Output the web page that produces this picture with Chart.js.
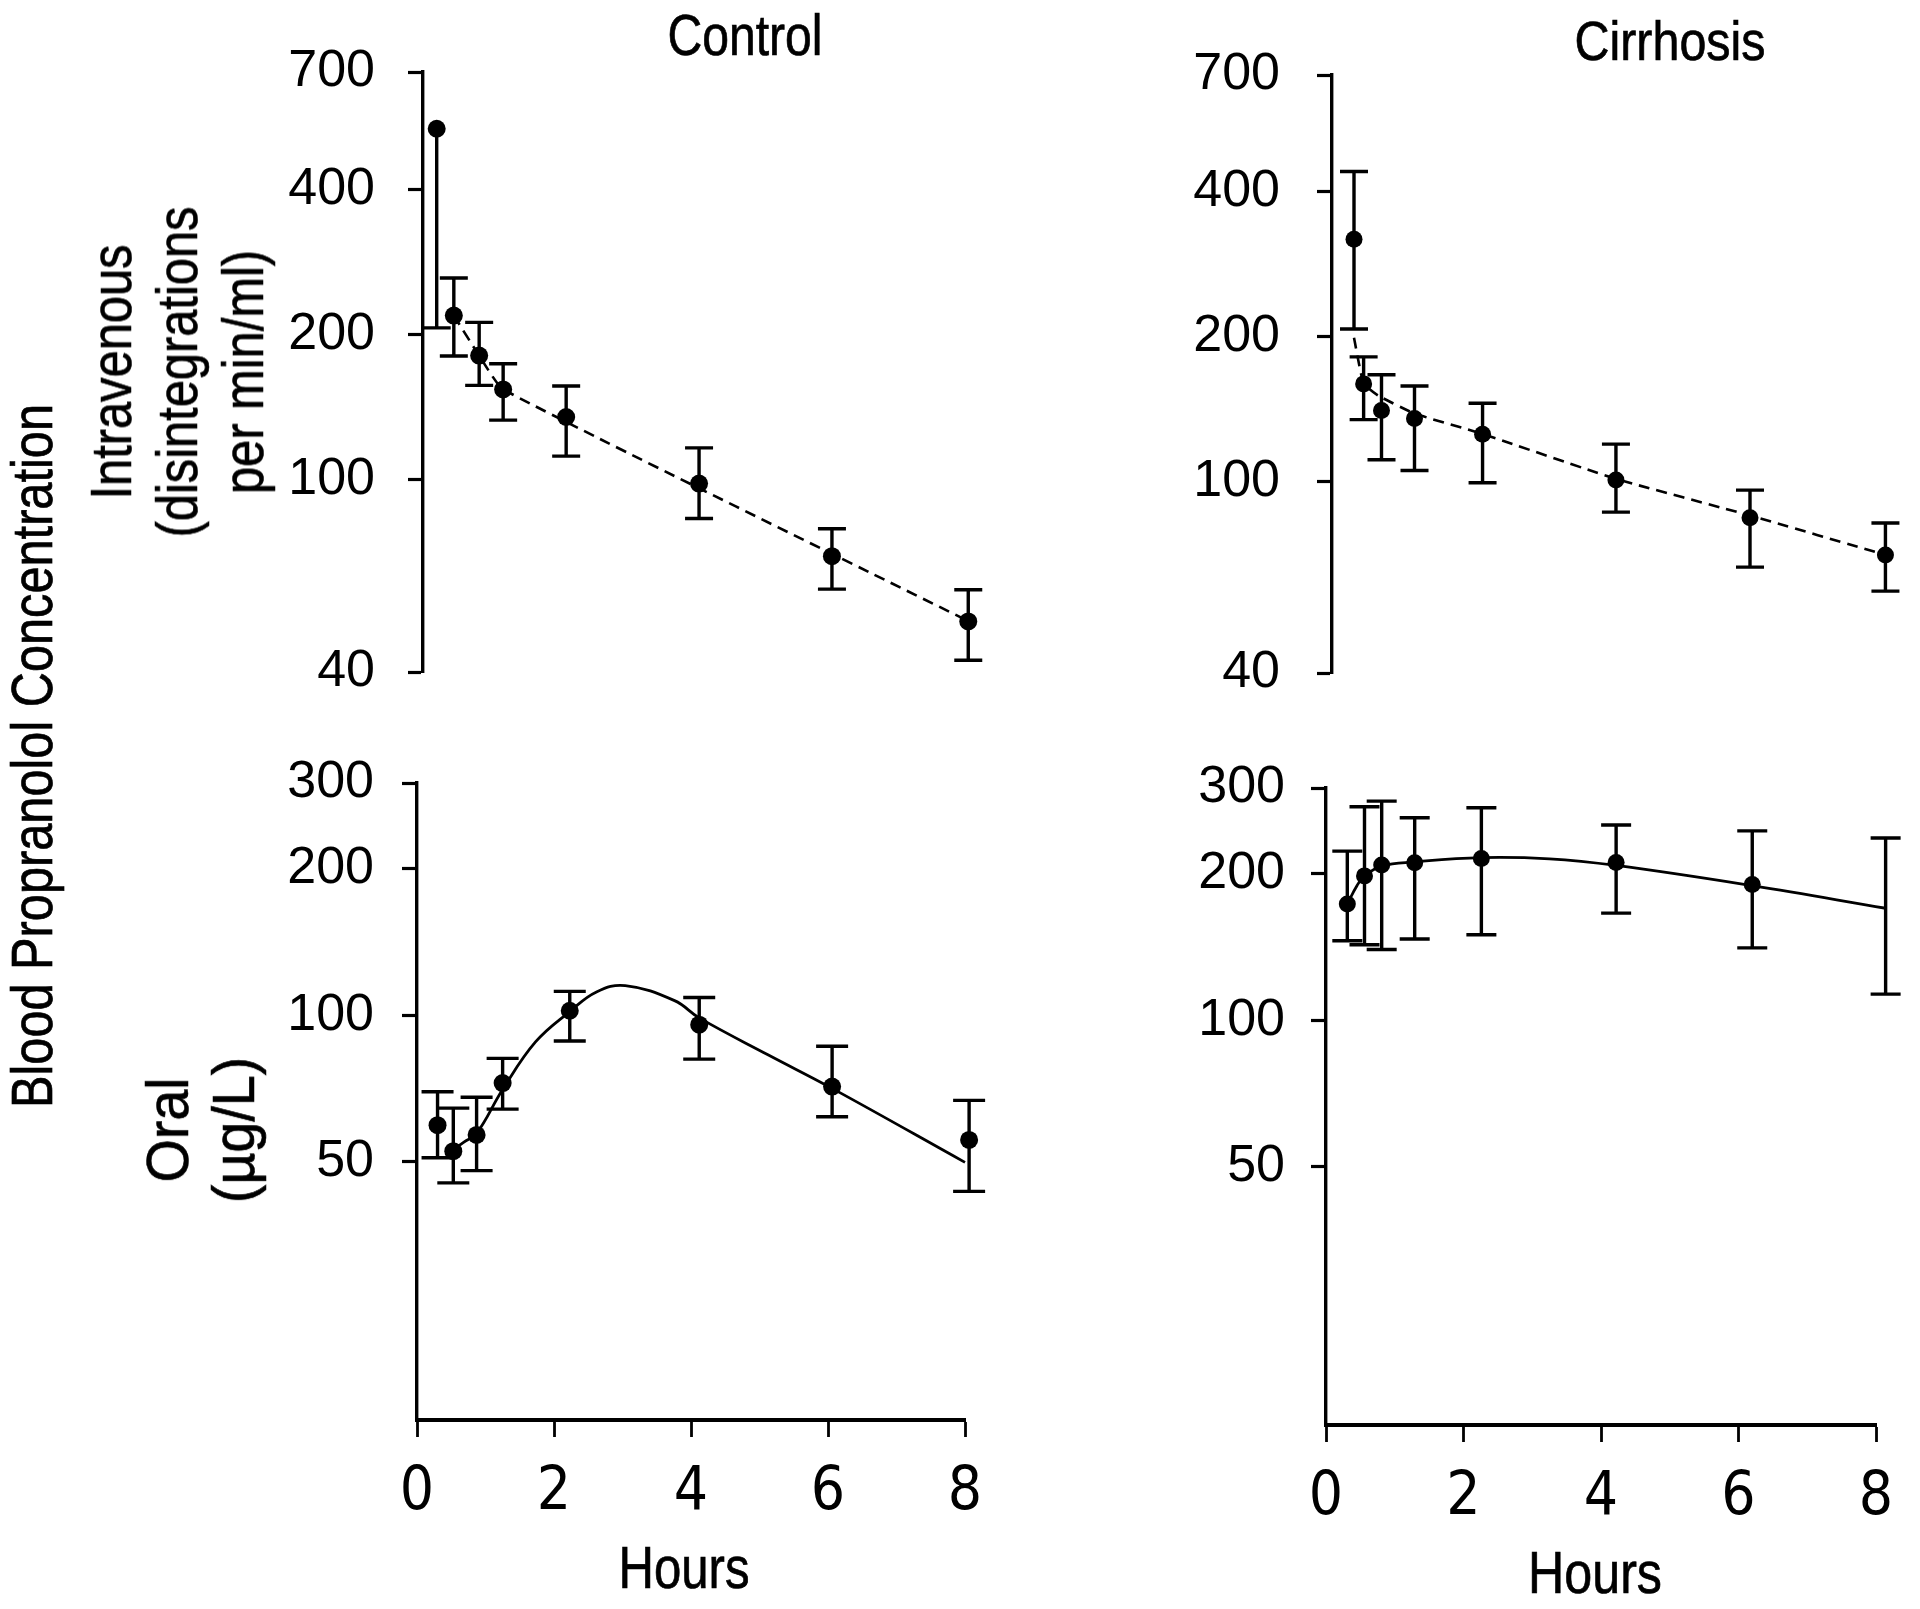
<!DOCTYPE html>
<html>
<head>
<meta charset="utf-8">
<script src="https://cdn.jsdelivr.net/npm/chart.js@4.4.1/dist/chart.umd.min.js"></script>
<style>
html,body{margin:0;padding:0;background:#fff;}
body{width:1920px;height:1609px;position:relative;overflow:hidden;}
canvas{position:absolute;}
.t{position:absolute;white-space:nowrap;color:#000;line-height:1;text-align:center;font-family:"Liberation Sans",Arial,sans-serif;-webkit-text-stroke:0.7px #000;}
</style>
</head>
<body>
<canvas id="tl" width="780" height="745" style="left:230px;top:0px"></canvas>
<canvas id="tr" width="780" height="745" style="left:1140px;top:0px"></canvas>
<canvas id="bl" width="780" height="909" style="left:230px;top:700px"></canvas>
<canvas id="br" width="780" height="909" style="left:1140px;top:700px"></canvas>

<div class="t" id="tControl">Control</div>
<div class="t" id="tCirrhosis">Cirrhosis</div>
<div class="t" id="tHours1">Hours</div>
<div class="t" id="tHours2">Hours</div>
<div class="t" id="tBlood">Blood Propranolol Concentration</div>
<div class="t" id="tIV">Intravenous<br>(disintegrations<br>per min/ml)</div>
<div class="t" id="tOral">Oral<br>(µg/L)</div>

<script>
// ---------- data ----------
// Control, intravenous
const ctrlIvHours = [0.20, 0.45, 0.82, 1.17, 2.09, 4.03, 5.97, 7.96];
const ctrlIvMean  = [534, 219, 181, 154, 135, 98.3, 69.5, 50.9];
const ctrlIvLow   = [206.5, 180.6, 157, 133, 112, 83.2, 59.4, 42.3];
const ctrlIvHigh  = [null, 262, 212, 174, 156.5, 116.5, 79.2, 59.2];
const ctrlIvFitHours = [0.45, 0.82, 1.17, 7.96];
const ctrlIvFitValues = [219, 181, 154, 51];

// Cirrhosis, intravenous
const cirrIvHours = [0.32, 0.46, 0.72, 1.20, 2.19, 4.13, 6.08, 8.05];
const cirrIvMean  = [319, 159.6, 140.5, 135.3, 125.4, 100.8, 84.1, 70.4];
const cirrIvLow   = [207.5, 134.5, 111, 105.4, 99.4, 86.4, 66.4, 59.2];
const cirrIvHigh  = [441, 181.6, 166.7, 158, 145.5, 119.6, 96, 82];
const cirrIvFitHours = [0.32, 0.46, 0.67, 1.20, 2.19, 4.13, 6.08, 8.05];
const cirrIvFitValues = [199, 160, 151, 138.5, 125.6, 101.3, 85, 70.4];

// Control, oral
const ctrlOralHours = [0.30, 0.53, 0.87, 1.25, 2.23, 4.12, 6.06, 8.06];
const ctrlOralMean  = [59.5, 52.6, 56.8, 72.6, 102.2, 95.7, 71.4, 55.5];
const ctrlOralLow   = [51, 45.3, 48, 64.2, 88.6, 81.3, 61.9, 43.5];
const ctrlOralHigh  = [69.7, 64.5, 67.9, 81.6, 112, 108.8, 86.4, 66.9];
const ctrlOralFitHours = [0.45, 0.69, 0.87, 1.25, 1.73, 2.23, 2.62, 3.04, 3.76, 4.12, 5.13, 6.06, 8.0];
const ctrlOralFitValues = [52, 55, 57.2, 70.4, 88.2, 101.8, 111.7, 115.1, 107.2, 98.8, 82.9, 70.8, 49.9];

// Cirrhosis, oral
const cirrOralHours = [0.31, 0.56, 0.81, 1.29, 2.26, 4.22, 6.20, 8.14];
const cirrOralMean  = [173.3, 198, 208.5, 210.6, 215, 211, 190, 169.9];
const cirrOralLow   = [145.7, 143, 139.8, 146.9, 149.9, 166, 140.9, 113.2];
const cirrOralHigh  = [222.6, 274.5, 281.9, 260.7, 273.3, 251.9, 245, 236.8];
const cirrOralFitHours = [0.31, 0.45, 0.56, 0.81, 1.29, 2.26, 3.25, 4.22, 6.2, 8.14];
const cirrOralFitValues = [173.3, 189, 198, 207.4, 211.5, 215.9, 214.6, 208, 189, 169.9];

// tick labels
const hourTicks = [0, 2, 4, 6, 8];
const ivTicks = [40, 100, 200, 400, 700];
const oralTicks = [50, 100, 200, 300];

// ---------- fonts ----------
function fontAvailable(name) {
  const c = document.createElement('canvas').getContext('2d');
  const t = '0123456789 Control Hours Cirrhosis';
  let diff = false;
  ['monospace', 'serif'].forEach(base => {
    c.font = '60px ' + base; const a = c.measureText(t).width;
    c.font = '60px "' + name + '", ' + base; const b = c.measureText(t).width;
    if (Math.abs(a - b) > 0.5) diff = true;
  });
  return diff;
}
const condFamily = ['Liberation Sans Narrow', 'DejaVu Sans Condensed', 'Arial Narrow'].find(fontAvailable);

// HTML labels: Liberation Sans squeezed horizontally to the reference's condensed width
const mctx = document.createElement('canvas').getContext('2d');
function place(id, cx, cy, size, rotate, lineHeight, refText, refWidth) {
  const el = document.getElementById(id);
  mctx.font = size + 'px "Liberation Sans"';
  const k = refWidth / mctx.measureText(refText).width;
  el.style.left = cx + 'px';
  el.style.top = cy + 'px';
  el.style.fontSize = size + 'px';
  if (lineHeight) el.style.lineHeight = lineHeight + 'px';
  el.style.transform = 'translate(-50%,-50%)' + (rotate ? ' rotate(-90deg)' : '') + ' scaleX(' + k.toFixed(4) + ')';
}
place('tControl', 745, 35, 58, false, 0, 'Control', 155);
place('tCirrhosis', 1670, 41, 56, false, 0, 'Cirrhosis', 191);
place('tHours1', 684, 1568, 60, false, 0, 'Hours', 131);
place('tHours2', 1595, 1573, 60, false, 0, 'Hours', 134);
place('tBlood', 32, 756, 57, true, 0, 'Blood Propranolol Concentration', 704);
place('tIV', 177, 372, 58, true, 66, 'Intravenous', 255);
place('tOral', 201, 1130, 60, true, 66, 'Oral', 105);

// ---------- error bars plugin (uses the chart's own scales) ----------
const errorBarPlugin = {
  id: 'errorBars',
  afterDatasetsDraw(chart, args, opts) {
    const ctx = chart.ctx, xs = chart.scales.x, ys = chart.scales.y;
    chart.data.datasets.forEach(ds => {
      if (!ds.errLow) return;
      ctx.save();
      ctx.strokeStyle = '#000';
      ctx.lineWidth = opts.lineWidth || 3;
      const cw = opts.capHalf || 14;
      ds.data.forEach((p, i) => {
        const px = xs.getPixelForValue(p.x);
        const py = ys.getPixelForValue(p.y);
        const lo = ds.errLow[i], hi = ds.errHigh[i];
        const top = hi != null ? ys.getPixelForValue(hi) : py;
        const bot = lo != null ? ys.getPixelForValue(lo) : py;
        ctx.beginPath();
        ctx.moveTo(px, top); ctx.lineTo(px, bot);
        if (hi != null) { ctx.moveTo(px - cw, top); ctx.lineTo(px + cw, top); }
        if (lo != null) { ctx.moveTo(px - cw, bot); ctx.lineTo(px + cw, bot); }
        ctx.stroke();
      });
      ctx.restore();
    });
  }
};

function makeChart(id, c) {
  const pts = c.hours.map((h, i) => ({x: h, y: c.mean[i]}));
  const fit = c.fitHours.map((h, i) => ({x: h, y: c.fitValues[i]}));
  return new Chart(document.getElementById(id), {
    type: 'scatter',
    data: {
      datasets: [
        {label: 'mean', data: pts, errLow: c.low, errHigh: c.high,
         pointRadius: c.r, pointHoverRadius: c.r, pointBackgroundColor: '#000',
         pointBorderWidth: 0, showLine: false, clip: false, order: 0},
        {label: 'fit', data: fit, showLine: true, pointRadius: 0, pointHoverRadius: 0,
         borderColor: '#000', borderWidth: c.lw, borderDash: c.dash,
         cubicInterpolationMode: 'default', tension: c.tension,
         clip: false, fill: false, order: 1}
      ]
    },
    options: {
      responsive: false, animation: false, events: [],
      layout: {padding: c.pad},
      plugins: {legend: {display: false}, tooltip: {enabled: false},
                errorBars: {capHalf: c.cap, lineWidth: 3.4}},
      scales: {
        x: {
          type: 'linear', min: 0, max: 8, position: 'bottom', display: c.showX,
          afterFit: s => { if (c.xH) s.height = c.xH; },
          afterBuildTicks: s => { s.ticks = hourTicks.map(v => ({value: v})); },
          ticks: {font: {family: condFamily || 'Liberation Sans', size: 60}, color: '#000',
                  padding: 20, maxRotation: 0, autoSkip: false},
          grid: {display: true, drawOnChartArea: false, drawTicks: true, tickLength: 17,
                 tickWidth: 2.8, tickColor: '#000', color: '#000'},
          border: {display: true, color: '#000', width: 4}
        },
        y: {
          type: 'logarithmic', min: c.min, max: c.max, position: 'left',
          afterFit: s => { s.width = c.yW; },
          afterBuildTicks: s => { s.ticks = c.yTicks.map(v => ({value: v})); },
          ticks: {callback: v => String(v), font: {family: 'Liberation Sans', size: 52},
                  color: '#000', padding: c.tickPad, autoSkip: false},
          grid: {display: true, drawOnChartArea: false, drawTicks: true, tickLength: 15,
                 tickWidth: 3.2, tickColor: '#000', color: '#000'},
          border: {display: true, color: '#000', width: 3.4}
        }
      }
    },
    plugins: [errorBarPlugin]
  });
}

makeChart('tl', {hours: ctrlIvHours, mean: ctrlIvMean, low: ctrlIvLow, high: ctrlIvHigh,
  fitHours: ctrlIvFitHours, fitValues: ctrlIvFitValues, dash: [11, 7], tension: 0.15, lw: 2.6,
  min: 40, max: 700, yTicks: ivTicks, showX: false, yW: 193, r: 9, cap: 14, tickPad: 33,
  pad: {left: 0, top: 72, right: 39, bottom: 73}});
makeChart('tr', {hours: cirrIvHours, mean: cirrIvMean, low: cirrIvLow, high: cirrIvHigh,
  fitHours: cirrIvFitHours, fitValues: cirrIvFitValues, dash: [11, 7], tension: 0.15, lw: 2.6,
  min: 40, max: 700, yTicks: ivTicks, showX: false, yW: 192, r: 8.5, cap: 14, tickPad: 37,
  pad: {left: 0, top: 75, right: 38, bottom: 72}});
makeChart('bl', {hours: ctrlOralHours, mean: ctrlOralMean, low: ctrlOralLow, high: ctrlOralHigh,
  fitHours: ctrlOralFitHours, fitValues: ctrlOralFitValues, dash: [], tension: 0.4, lw: 2.8,
  min: 14.76, max: 300, yTicks: oralTicks, showX: true, xH: 189, yW: 187, r: 9, cap: 16, tickPad: 28,
  pad: {left: 0, top: 83, right: 45, bottom: 0}});
makeChart('br', {hours: cirrOralHours, mean: cirrOralMean, low: cirrOralLow, high: cirrOralHigh,
  fitHours: cirrOralFitHours, fitValues: cirrOralFitValues, dash: [], tension: 0.4, lw: 2.8,
  min: 14.76, max: 300, yTicks: oralTicks, showX: true, xH: 184, yW: 186, r: 8.5, cap: 15, tickPad: 26,
  pad: {left: 0, top: 88, right: 44, bottom: 0}});
</script>
</body>
</html>
